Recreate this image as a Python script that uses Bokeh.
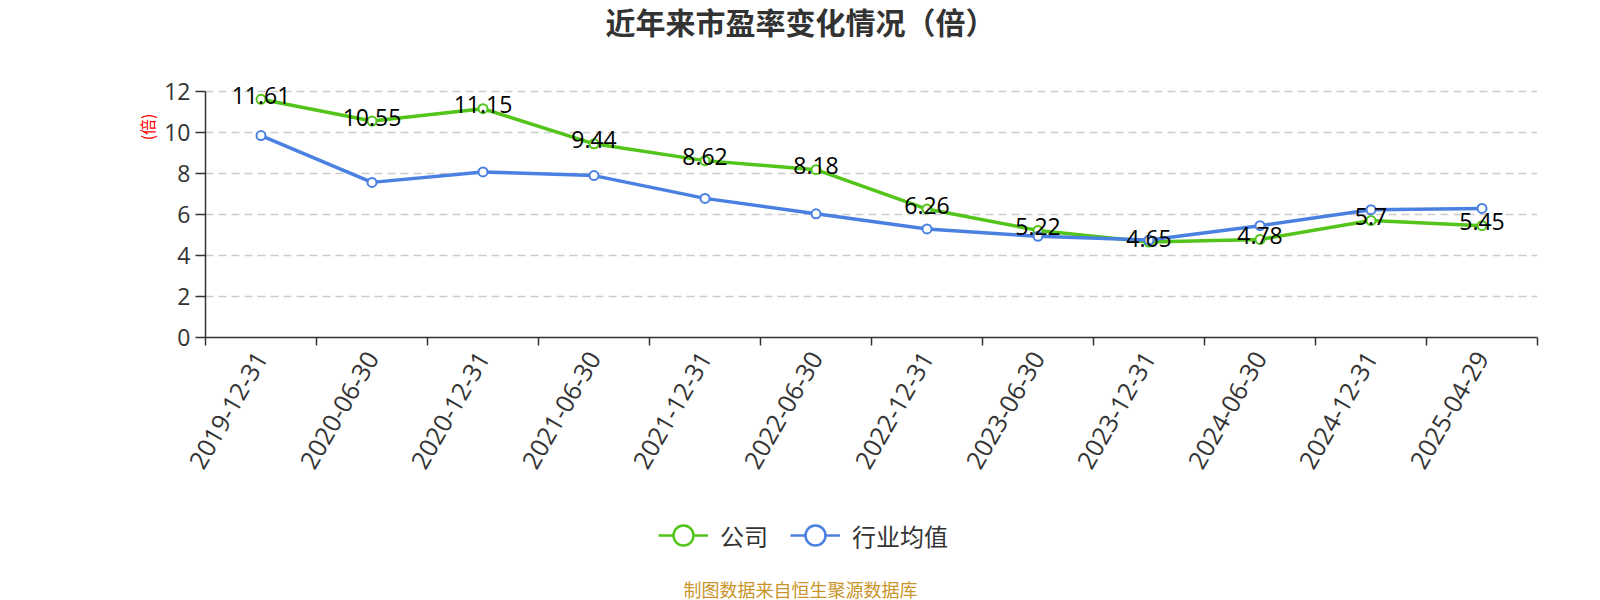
import math
from bokeh.plotting import figure
from bokeh.layouts import column
from bokeh.models import (Range1d, FixedTicker, ColumnDataSource, Legend, LegendItem, Title, Label)
from bokeh.core.properties import value
from bokeh.embed import file_html
from bokeh.resources import INLINE

dates = ["2019-12-31", "2020-06-30", "2020-12-31", "2021-06-30", "2021-12-31", "2022-06-30",
         "2022-12-31", "2023-06-30", "2023-12-31", "2024-06-30", "2024-12-31", "2025-04-29"]
company = [11.61, 10.55, 11.15, 9.44, 8.62, 8.18, 6.26, 5.22, 4.65, 4.78, 5.7, 5.45]
industry = [9.84, 7.56, 8.07, 7.89, 6.78, 6.03, 5.29, 4.93, 4.75, 5.45, 6.23, 6.29]
y_ticks = [0, 2, 4, 6, 8, 10, 12]
title_text = "近年来市盈率变化情况（倍）"
source_text = "制图数据来自恒生聚源数据库"
unit_text = "(倍)"
series_names = ["公司", "行业均值"]

GREEN = "#52C41A"
BLUE = "#4A80E2"
FONT = "Open Sans"
CJK = "Noto Sans CJK SC"
W = 1600
LEFT, RIGHT = 205, 63


def blank_fig(h):
    f = figure(width=W, height=h, output_backend="svg", toolbar_location=None,
               x_range=Range1d(LEFT, W - RIGHT), y_range=Range1d(0, h),
               x_axis_type=None, y_axis_type=None,
               min_border_left=LEFT, min_border_right=RIGHT, min_border_top=0, min_border_bottom=0)
    f.outline_line_color = None
    f.grid.visible = False
    return f


# ---------- title strip ----------
TOP_H = 45
top = blank_fig(TOP_H)
top.add_layout(Label(x=W / 2, y=TOP_H - 20, text=title_text, text_font=CJK, text_font_size="30px",
                     text_font_style="bold", text_color="#333333", text_align="center",
                     text_baseline="middle"))

# ---------- main chart ----------
n = len(dates)
xs = [i + 0.5 for i in range(n)]
src = ColumnDataSource(dict(x=xs, company=company, industry=industry,
                            lbl=[str(v) for v in company]))

p = figure(width=W, height=445, output_backend="svg", toolbar_location=None,
           x_range=Range1d(0, n), y_range=Range1d(0, 13.5),
           min_border_left=LEFT, min_border_right=RIGHT, min_border_top=15, min_border_bottom=153)
p.outline_line_color = None

p.xaxis.ticker = FixedTicker(ticks=xs, minor_ticks=list(range(n + 1)))
p.xaxis.major_label_overrides = {x: d for x, d in zip(xs, dates)}
p.xaxis.major_label_orientation = math.pi / 3
p.xaxis.major_tick_line_color = None
p.xaxis.major_tick_out = 8
p.xaxis.major_tick_in = 0
p.xaxis.minor_tick_line_color = "#333333"
p.xaxis.minor_tick_line_width = 1.5
p.xaxis.minor_tick_out = 8
p.xaxis.minor_tick_in = 0
p.xaxis.axis_line_color = "#333333"
p.xaxis.axis_line_width = 1.5
p.xaxis.major_label_text_font = FONT
p.xaxis.major_label_text_font_size = "25px"
p.xaxis.major_label_text_color = "#333333"
p.xaxis.major_label_standoff = 8
p.xgrid.visible = False

p.yaxis.ticker = FixedTicker(ticks=y_ticks)
p.yaxis.bounds = (0, 12)
p.yaxis.minor_tick_line_color = None
p.yaxis.major_tick_out = 10
p.yaxis.major_tick_in = 0
p.yaxis.major_tick_line_color = "#333333"
p.yaxis.major_tick_line_width = 1.5
p.yaxis.axis_line_color = "#333333"
p.yaxis.axis_line_width = 1.5
p.yaxis.major_label_text_font = FONT
p.yaxis.major_label_text_font_size = "23px"
p.yaxis.major_label_text_color = "#333333"
p.yaxis.major_label_standoff = 5
p.ygrid.ticker = FixedTicker(ticks=y_ticks[1:])
p.ygrid.grid_line_color = "#cccccc"
p.ygrid.grid_line_dash = "8 5"
p.ygrid.grid_line_width = 1.5

p.line("x", "company", source=src, line_color=GREEN, line_width=3.5)
p.scatter("x", "company", source=src, size=9, fill_color="white", line_color=GREEN, line_width=2)
p.line("x", "industry", source=src, line_color=BLUE, line_width=3.5)
p.scatter("x", "industry", source=src, size=9, fill_color="white", line_color=BLUE, line_width=2)
p.text("x", "company", text="lbl", source=src, text_font=value(FONT), text_font_size="23px",
       text_color="black", text_align="center", text_baseline="middle", y_offset=-4)

p.add_layout(Title(text=unit_text, align="right", offset=53, text_font=CJK, text_font_size="16px",
                   text_font_style="normal", text_color="red", standoff=5), "left")

# ---------- legend + source strip ----------
BOT_H = 110
bot = blank_fig(BOT_H)
dummy = ColumnDataSource(dict(x=[-20, -10], y=[-20, -20]))
g1 = bot.line("x", "y", source=dummy, line_color=GREEN, line_width=2.5)
g2 = bot.scatter("x", "y", source=dummy, size=10, fill_color="white", line_color=GREEN, line_width=2.5)
b1 = bot.line("x", "y", source=dummy, line_color=BLUE, line_width=2.5)
b2 = bot.scatter("x", "y", source=dummy, size=10, fill_color="white", line_color=BLUE, line_width=2.5)
legend = Legend(items=[LegendItem(label=series_names[0], renderers=[g1, g2]),
                       LegendItem(label=series_names[1], renderers=[b1, b2])],
                orientation="horizontal", location=(658 - LEFT, 35),
                glyph_width=50, glyph_height=60, label_standoff=12, spacing=22, padding=0,
                border_line_color=None, background_fill_alpha=0,
                label_text_font=CJK, label_text_font_size="24px", label_text_color="#333333")
bot.add_layout(legend, "center")
bot.add_layout(Label(x=W / 2, y=12, text=source_text, text_font=CJK, text_font_size="18px",
                     text_color="#C9952B", text_align="center", text_baseline="middle"))

layout = column(top, p, bot, spacing=0)
open("out.html", "w").write(file_html(layout, INLINE))
